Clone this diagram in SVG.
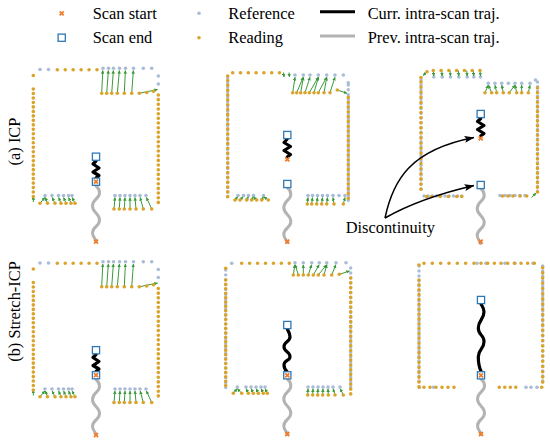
<svg xmlns="http://www.w3.org/2000/svg" xmlns:xlink="http://www.w3.org/1999/xlink" width="550" height="444" viewBox="0 0 550 444">
<style>
text{font-family:"Liberation Serif","Times New Roman",serif;font-size:16.4px;fill:#000}
.o{fill:#dba32a}
.b{fill:#a9bcd7}
.do{stroke:#dba32a;stroke-width:3.6;stroke-linecap:round;fill:none}
.db{stroke:#a9bcd7;stroke-width:3.4;stroke-linecap:round;fill:none}
.gl{stroke:#3a9a3a;stroke-width:1;fill:none;marker-end:url(#ga)}
.cur{stroke:#000;stroke-width:3.2;fill:none;stroke-linejoin:round;stroke-linecap:round}
.prv{stroke:#b3b3b3;stroke-width:3;fill:none;stroke-linecap:round}
.ar{stroke:#000;stroke-width:1.5;fill:none;marker-end:url(#ka)}
</style>
<defs>
<marker id="ga" viewBox="0 0 6 6" refX="5.5" refY="3" markerWidth="3.5" markerHeight="3.5" orient="auto"><path d="M0,0 L6,3 L0,6 z" fill="#3a9a3a"/></marker>
<marker id="ka" viewBox="0 0 10 8" refX="9.5" refY="4" markerWidth="10" markerHeight="8" markerUnits="userSpaceOnUse" orient="auto"><path d="M0,0.5 L10,4 L0,7.5 L2,4 z" fill="#000"/></marker>
<g id="sx"><path d="M-2,-2 L2,2 M-2,2 L2,-2" stroke="#ef7d2b" stroke-width="1.8"/></g>
<rect id="se" x="-3.6" y="-3.6" width="7.2" height="7.2" fill="#fff" stroke="#2e78b5" stroke-width="1.3"/>
<path id="prev" class="prv" d="M0,0 C2,1.5 3.5,4 3.5,7 C3.5,13 -3.5,13 -3.5,20 C-3.5,27 3.5,27 3.5,34 C3.5,41 -3.5,40 -3.5,47 C-3.5,51 0,53 0,55"/>
<g id="p1">
 <g class="b">
  <circle cx="40" cy="69.5" r="1.8"/><circle cx="48.5" cy="69.5" r="1.8"/>
  <circle cx="103" cy="68.3" r="1.8"/><circle cx="108.5" cy="68.3" r="1.8"/><circle cx="113.5" cy="68.3" r="1.8"/><circle cx="119.5" cy="68.3" r="1.8"/><circle cx="125.5" cy="68.3" r="1.8"/><circle cx="133.5" cy="68.3" r="1.8"/><circle cx="143.3" cy="68.3" r="1.8"/><circle cx="151.7" cy="68.3" r="1.8"/>
  <circle cx="158.3" cy="76" r="1.8"/><circle cx="158.3" cy="84" r="1.8"/>
  <circle cx="45" cy="195.5" r="1.8"/><circle cx="52" cy="195.5" r="1.8"/><circle cx="58.5" cy="195.5" r="1.8"/><circle cx="63.5" cy="195.5" r="1.8"/><circle cx="68.5" cy="195.5" r="1.8"/><circle cx="72" cy="195.5" r="1.8"/>
  <circle cx="115" cy="195.5" r="1.8"/><circle cx="120" cy="195.5" r="1.8"/><circle cx="125" cy="195.5" r="1.8"/><circle cx="130" cy="195.5" r="1.8"/><circle cx="135" cy="195.5" r="1.8"/><circle cx="140" cy="195.5" r="1.8"/><circle cx="146" cy="195.5" r="1.8"/>
 </g>
 <g>
  <line class="gl" x1="101.7" y1="93.3" x2="102.8" y2="70.5"/><line class="gl" x1="106.7" y1="93.3" x2="108.4" y2="70.5"/><line class="gl" x1="111.7" y1="93.3" x2="113.4" y2="70.5"/><line class="gl" x1="117.3" y1="93.3" x2="119.4" y2="70.5"/><line class="gl" x1="124.3" y1="93.3" x2="125.4" y2="70.5"/><line class="gl" x1="131.7" y1="93.3" x2="133.4" y2="70.5"/>
  <line class="gl" x1="139.3" y1="93.3" x2="157.5" y2="89.5"/>
  <line class="gl" x1="33.3" y1="202" x2="33.3" y2="196.5"/><line class="gl" x1="40" y1="203.3" x2="44.8" y2="197.5"/><line class="gl" x1="47.5" y1="203.3" x2="45.3" y2="197.5"/><line class="gl" x1="55" y1="203.3" x2="52.2" y2="197.5"/><line class="gl" x1="61" y1="203.3" x2="58.7" y2="197.5"/><line class="gl" x1="66" y1="203.3" x2="63.7" y2="197.5"/><line class="gl" x1="71" y1="203.3" x2="68.7" y2="197.5"/><line class="gl" x1="75" y1="203.3" x2="72.2" y2="197.5"/>
  <line class="gl" x1="114" y1="209" x2="115" y2="197.5"/><line class="gl" x1="119.3" y1="209" x2="120" y2="197.5"/><line class="gl" x1="124.3" y1="209" x2="125" y2="197.5"/><line class="gl" x1="130" y1="209" x2="130" y2="197.5"/><line class="gl" x1="136" y1="209" x2="135" y2="197.5"/><line class="gl" x1="143.3" y1="209" x2="140.2" y2="197.5"/><line class="gl" x1="151.7" y1="209" x2="146.4" y2="197.5"/>
 </g>
 <g>
  <circle class="o" cx="33.3" cy="75.5" r="1.8"/>
  <line class="do" x1="33.3" y1="89" x2="33.3" y2="201" stroke-dasharray="0 4.48"/>
  <line class="do" x1="57.3" y1="69.8" x2="97" y2="69.8" stroke-dasharray="0 7.94"/>
  <g class="o"><circle cx="101.7" cy="93.3" r="1.8"/><circle cx="106.7" cy="93.3" r="1.8"/><circle cx="111.7" cy="93.3" r="1.8"/><circle cx="117.3" cy="93.3" r="1.8"/><circle cx="124.3" cy="93.3" r="1.8"/><circle cx="131.7" cy="93.3" r="1.8"/><circle cx="139.3" cy="93.3" r="1.8"/><circle cx="146.7" cy="92.5" r="1.8"/><circle cx="153.5" cy="91.2" r="1.8"/></g>
  <line class="do" x1="158.3" y1="95" x2="158.3" y2="207" stroke-dasharray="0 4.67"/>
  <g class="o"><circle cx="40" cy="203.3" r="1.8"/><circle cx="47.5" cy="203.3" r="1.8"/><circle cx="55" cy="203.3" r="1.8"/><circle cx="61" cy="203.3" r="1.8"/><circle cx="66" cy="203.3" r="1.8"/><circle cx="71" cy="203.3" r="1.8"/><circle cx="75" cy="203.3" r="1.8"/>
  <circle cx="114" cy="209" r="1.8"/><circle cx="119.3" cy="209" r="1.8"/><circle cx="124.3" cy="209" r="1.8"/><circle cx="130" cy="209" r="1.8"/><circle cx="136" cy="209" r="1.8"/><circle cx="143.3" cy="209" r="1.8"/><circle cx="151.7" cy="209" r="1.8"/></g>
 </g>
 <use xlink:href="#prev" href="#prev" transform="translate(96,186)"/>
 <polyline class="cur" points="96,178 99,175.5 93,172 99,168 93,164 96,161"/>
 <use xlink:href="#se" href="#se" x="96" y="156.7"/>
 <use xlink:href="#se" href="#se" x="96" y="181.7"/>
 <use xlink:href="#sx" href="#sx" x="96" y="181.7"/>
 <use xlink:href="#sx" href="#sx" x="96" y="241.7"/>
</g>
</defs>
<rect width="550" height="444" fill="#fff"/>

<g id="legend">
 <use xlink:href="#sx" href="#sx" x="61.7" y="13.3"/>
 <use xlink:href="#se" href="#se" x="61.7" y="37.7"/>
 <circle class="b" cx="199" cy="13.3" r="1.8"/>
 <circle class="o" cx="199" cy="37.7" r="1.8"/>
 <line x1="320" y1="11.7" x2="355" y2="11.7" stroke="#000" stroke-width="3"/>
 <line x1="320" y1="36" x2="355" y2="36" stroke="#b3b3b3" stroke-width="3"/>
 <text x="92.7" y="18.5">Scan start</text>
 <text x="92.7" y="42.7">Scan end</text>
 <text x="228.3" y="18.5">Reference</text>
 <text x="228.3" y="42.7">Reading</text>
 <text x="367.7" y="18.5">Curr. intra-scan traj.</text>
 <text x="367.7" y="42.7">Prev. intra-scan traj.</text>
</g>

<g id="row-labels">
 <text transform="translate(20,141.5) rotate(-90)" text-anchor="middle">(a) ICP</text>
 <text transform="translate(20,311.5) rotate(-90)" text-anchor="middle">(b) Stretch-ICP</text>
</g>

<g id="panel-a1"><use xlink:href="#p1" href="#p1"/></g>

<g id="panel-a2">
 <line class="db" x1="227.7" y1="78" x2="227.7" y2="197" stroke-dasharray="0 4.76"/>
 <g class="b">
  <circle cx="295" cy="75" r="1.8"/><circle cx="303.3" cy="75" r="1.8"/><circle cx="310" cy="75" r="1.8"/><circle cx="318.3" cy="75" r="1.8"/><circle cx="326.7" cy="75" r="1.8"/><circle cx="335" cy="75" r="1.8"/><circle cx="343.3" cy="75" r="1.8"/><circle cx="348.3" cy="82.7" r="1.8"/>
  <circle cx="238" cy="195.5" r="1.8"/><circle cx="243.5" cy="195.5" r="1.8"/><circle cx="248.5" cy="195.5" r="1.8"/><circle cx="253.5" cy="195.5" r="1.8"/><circle cx="263.5" cy="195.5" r="1.8"/>
  <circle cx="308" cy="195.5" r="1.8"/><circle cx="312.5" cy="195.5" r="1.8"/><circle cx="317.5" cy="195.5" r="1.8"/><circle cx="322.5" cy="195.5" r="1.8"/><circle cx="327.5" cy="195.5" r="1.8"/><circle cx="333" cy="195.5" r="1.8"/><circle cx="339" cy="195.5" r="1.8"/><circle cx="345" cy="195.5" r="1.8"/>
 </g>
 <line class="db" x1="348.3" y1="85" x2="348.3" y2="201" stroke-dasharray="0 4.8"/>
 <g>
  <line class="gl" x1="292.7" y1="92.7" x2="295" y2="77.2"/><line class="gl" x1="296.7" y1="92.7" x2="303.2" y2="77.2"/><line class="gl" x1="300.7" y1="92.7" x2="303.4" y2="77.2"/><line class="gl" x1="305" y1="92.7" x2="310" y2="77.2"/><line class="gl" x1="309.3" y1="92.7" x2="318.2" y2="77.2"/><line class="gl" x1="314" y1="92.7" x2="318.4" y2="77.2"/><line class="gl" x1="318.3" y1="92.7" x2="326.6" y2="77.2"/><line class="gl" x1="324" y1="92.7" x2="326.8" y2="77.2"/><line class="gl" x1="330" y1="92.7" x2="335" y2="77.2"/>
  <line class="gl" x1="337.3" y1="90" x2="347" y2="93.3"/>
  <line class="gl" x1="283.5" y1="72.5" x2="284" y2="77"/><line class="gl" x1="289" y1="72.5" x2="289.5" y2="77"/>
  <line class="gl" x1="235" y1="200" x2="237.7" y2="196.8"/><line class="gl" x1="240" y1="200" x2="243.2" y2="196.8"/><line class="gl" x1="246.7" y1="200" x2="248.3" y2="196.8"/><line class="gl" x1="251.7" y1="200" x2="253.3" y2="196.8"/><line class="gl" x1="256.7" y1="200" x2="253.7" y2="196.8"/><line class="gl" x1="261.7" y1="200" x2="263.3" y2="196.8"/><line class="gl" x1="268.3" y1="200" x2="263.8" y2="196.8"/>
  <line class="gl" x1="307.3" y1="204" x2="308" y2="197.5"/><line class="gl" x1="311.7" y1="204" x2="312.5" y2="197.5"/><line class="gl" x1="316.7" y1="204" x2="317.5" y2="197.5"/><line class="gl" x1="321.7" y1="204" x2="322.5" y2="197.5"/><line class="gl" x1="326.7" y1="204" x2="327.5" y2="197.5"/><line class="gl" x1="334" y1="204" x2="333" y2="197.5"/><line class="gl" x1="343.3" y1="204" x2="345" y2="197.5"/>
 </g>
 <circle class="o" cx="227.7" cy="76" r="1.8"/>
 <line class="do" x1="227.7" y1="80.5" x2="227.7" y2="196.7" stroke-dasharray="0 4.84"/>
 <line class="do" x1="232.7" y1="72.7" x2="287.3" y2="72.7" stroke-dasharray="0 7.8"/>
 <g class="o"><circle cx="292.7" cy="92.7" r="1.8"/><circle cx="296.7" cy="92.7" r="1.8"/><circle cx="300.7" cy="92.7" r="1.8"/><circle cx="305" cy="92.7" r="1.8"/><circle cx="309.3" cy="92.7" r="1.8"/><circle cx="314" cy="92.7" r="1.8"/><circle cx="318.3" cy="92.7" r="1.8"/><circle cx="324" cy="92.7" r="1.8"/><circle cx="330" cy="92.7" r="1.8"/><circle cx="337.3" cy="90" r="1.8"/></g>
 <line class="do" x1="348.3" y1="97.4" x2="348.3" y2="203" stroke-dasharray="0 4.8"/>
 <g class="o"><circle cx="235" cy="200" r="1.8"/><circle cx="240" cy="200" r="1.8"/><circle cx="246.7" cy="200" r="1.8"/><circle cx="251.7" cy="200" r="1.8"/><circle cx="256.7" cy="200" r="1.8"/><circle cx="261.7" cy="200" r="1.8"/><circle cx="268.3" cy="200" r="1.8"/>
 <circle cx="307.3" cy="204" r="1.8"/><circle cx="311.7" cy="204" r="1.8"/><circle cx="316.7" cy="204" r="1.8"/><circle cx="321.7" cy="204" r="1.8"/><circle cx="326.7" cy="204" r="1.8"/><circle cx="334" cy="204" r="1.8"/><circle cx="343.3" cy="204" r="1.8"/></g>
 <use xlink:href="#prev" href="#prev" transform="translate(287.3,187.5)"/>
 <polyline class="cur" points="287.3,157 290.5,154.5 284,150.5 290.5,146.5 284,142.5 287.3,139"/>
 <use xlink:href="#se" href="#se" x="287.3" y="135"/>
 <use xlink:href="#se" href="#se" x="287.3" y="184"/>
 <use xlink:href="#sx" href="#sx" x="287.3" y="159.3"/>
 <use xlink:href="#sx" href="#sx" x="287.3" y="241.7"/>
</g>

<g id="panel-a3">
 <line class="db" x1="421" y1="80" x2="421" y2="194" stroke-dasharray="0 4.75"/>
 <line class="db" x1="537.5" y1="82" x2="537.5" y2="196" stroke-dasharray="0 4.75"/>
 <line class="db" x1="424" y1="196" x2="462" y2="196" stroke-dasharray="0 4.2"/>
 <g class="b">
  <circle cx="433.8" cy="77" r="1.8"/><circle cx="442.2" cy="77" r="1.8"/><circle cx="450.5" cy="77" r="1.8"/><circle cx="458.8" cy="77" r="1.8"/><circle cx="467.2" cy="77" r="1.8"/><circle cx="473.8" cy="77" r="1.8"/><circle cx="480.5" cy="77" r="1.8"/>
  <circle cx="488.3" cy="83.3" r="1.8"/><circle cx="495" cy="83.3" r="1.8"/><circle cx="501.7" cy="83.3" r="1.8"/><circle cx="508.3" cy="83.3" r="1.8"/><circle cx="515" cy="83.3" r="1.8"/><circle cx="521.7" cy="83.3" r="1.8"/><circle cx="530" cy="83.3" r="1.8"/><circle cx="535.5" cy="80" r="1.8"/>
  <circle cx="500" cy="195.5" r="1.8"/><circle cx="505" cy="195.5" r="1.8"/><circle cx="510" cy="195.5" r="1.8"/><circle cx="515" cy="195.5" r="1.8"/><circle cx="520" cy="195.5" r="1.8"/><circle cx="525" cy="195.5" r="1.8"/>
 </g>
 <g>
  <line class="gl" x1="433.3" y1="70.5" x2="433.8" y2="76"/><line class="gl" x1="441.7" y1="70.5" x2="442.2" y2="76"/><line class="gl" x1="450" y1="70.5" x2="450.5" y2="76"/><line class="gl" x1="458.3" y1="70.5" x2="458.8" y2="76"/><line class="gl" x1="466.7" y1="70.5" x2="467.2" y2="76"/><line class="gl" x1="473.3" y1="70.5" x2="473.8" y2="76"/><line class="gl" x1="480" y1="70.5" x2="480.5" y2="76"/>
  <line class="gl" x1="427" y1="72" x2="423" y2="75.5"/>
  <line class="gl" x1="485" y1="92.7" x2="488.2" y2="85.2"/><line class="gl" x1="491.7" y1="92.7" x2="488.5" y2="85.2"/><line class="gl" x1="496.7" y1="92.7" x2="495" y2="85.2"/><line class="gl" x1="503.3" y1="92.7" x2="501.7" y2="85.2"/><line class="gl" x1="509.3" y1="92.7" x2="514.8" y2="85.2"/><line class="gl" x1="516.7" y1="92.7" x2="515.2" y2="85.2"/><line class="gl" x1="521.7" y1="92.7" x2="521.7" y2="85.2"/><line class="gl" x1="528.3" y1="92.7" x2="530" y2="85.2"/>
  <line class="gl" x1="531.7" y1="197.5" x2="536" y2="193"/>
 </g>
 <circle class="o" cx="421" cy="77.5" r="1.8"/><circle class="o" cx="427" cy="71.7" r="1.8"/>
 <line class="do" x1="421" y1="82" x2="421" y2="194.2" stroke-dasharray="0 5.1"/>
 <line class="do" x1="433.3" y1="70.5" x2="480" y2="70.5" stroke-dasharray="0 7.78"/>
 <g class="o"><circle cx="485" cy="92.7" r="1.8"/><circle cx="491.7" cy="92.7" r="1.8"/><circle cx="496.7" cy="92.7" r="1.8"/><circle cx="503.3" cy="92.7" r="1.8"/><circle cx="509.3" cy="92.7" r="1.8"/><circle cx="516.7" cy="92.7" r="1.8"/><circle cx="521.7" cy="92.7" r="1.8"/><circle cx="528.3" cy="92.7" r="1.8"/></g>
 <line class="do" x1="537.5" y1="88" x2="537.5" y2="196.7" stroke-dasharray="0 4.73"/>
 <g class="o"><circle cx="426.7" cy="196.5" r="1.8"/><circle cx="431.7" cy="196.5" r="1.8"/><circle cx="440" cy="196.5" r="1.8"/><circle cx="448.3" cy="196.5" r="1.8"/><circle cx="456.7" cy="196.5" r="1.8"/><circle cx="461.7" cy="196.5" r="1.8"/>
 <circle cx="502.5" cy="196" r="1.8"/><circle cx="508" cy="196" r="1.8"/><circle cx="513" cy="196" r="1.8"/><circle cx="520" cy="196" r="1.8"/><circle cx="526.7" cy="196" r="1.8"/></g>
 <use xlink:href="#prev" href="#prev" transform="translate(480.7,188.5)"/>
 <polyline class="cur" points="480.7,136 484,133.5 477.5,129.5 484,125.5 477.5,121.5 480.7,118.5"/>
 <use xlink:href="#se" href="#se" x="480.7" y="114"/>
 <use xlink:href="#se" href="#se" x="480.7" y="185"/>
 <use xlink:href="#sx" href="#sx" x="480.7" y="138.3"/>
 <use xlink:href="#sx" href="#sx" x="480.7" y="241.7"/>
</g>

<g id="discontinuity">
 <path class="ar" d="M385,218 C393,180 410,150 474,137.5"/>
 <path class="ar" d="M385,218 Q420,198 474,185.5"/>
 <text x="345.7" y="233">Discontinuity</text>
</g>

<g id="panel-b1"><use xlink:href="#p1" href="#p1" transform="translate(0,193.5)"/></g>

<g id="panel-b2">
 <line class="db" x1="225.7" y1="270" x2="225.7" y2="388" stroke-dasharray="0 4.9"/>
 <line class="db" x1="350.7" y1="268" x2="350.7" y2="392" stroke-dasharray="0 4.96"/>
 <g class="b">
  <circle cx="231.7" cy="263.3" r="1.8"/>
  <circle cx="295" cy="262.7" r="1.8"/><circle cx="303.3" cy="262.7" r="1.8"/><circle cx="311.7" cy="262.7" r="1.8"/><circle cx="319.3" cy="262.7" r="1.8"/><circle cx="326.7" cy="262.7" r="1.8"/><circle cx="336" cy="262.7" r="1.8"/><circle cx="346" cy="262.7" r="1.8"/>
  <circle cx="237.3" cy="387" r="1.8"/><circle cx="246" cy="387" r="1.8"/><circle cx="251" cy="387" r="1.8"/><circle cx="256" cy="387" r="1.8"/><circle cx="261" cy="387" r="1.8"/><circle cx="265" cy="387" r="1.8"/>
  <circle cx="308" cy="387" r="1.8"/><circle cx="313" cy="387" r="1.8"/><circle cx="318" cy="387" r="1.8"/><circle cx="323" cy="387" r="1.8"/><circle cx="328" cy="387" r="1.8"/><circle cx="333" cy="387" r="1.8"/><circle cx="340" cy="387" r="1.8"/>
 </g>
 <g>
  <line class="gl" x1="293.3" y1="275" x2="294.8" y2="264.8"/><line class="gl" x1="298.3" y1="275" x2="295.3" y2="264.8"/><line class="gl" x1="303.3" y1="275" x2="303.3" y2="264.8"/><line class="gl" x1="308.3" y1="275" x2="311.5" y2="264.8"/><line class="gl" x1="313.3" y1="275" x2="319.1" y2="264.8"/><line class="gl" x1="318.3" y1="275" x2="326.5" y2="264.8"/><line class="gl" x1="324" y1="275" x2="326.9" y2="264.8"/><line class="gl" x1="331.7" y1="275" x2="335.8" y2="264.8"/>
  <line class="gl" x1="339.3" y1="274.3" x2="349.5" y2="271"/>
  <line class="gl" x1="233.3" y1="393.3" x2="237.1" y2="388.8"/><line class="gl" x1="241.7" y1="393.3" x2="237.5" y2="388.8"/><line class="gl" x1="248.3" y1="393.3" x2="246.2" y2="388.8"/><line class="gl" x1="253.3" y1="393.3" x2="251.2" y2="388.8"/><line class="gl" x1="258.3" y1="393.3" x2="256.2" y2="388.8"/><line class="gl" x1="263.3" y1="393.3" x2="261.2" y2="388.8"/><line class="gl" x1="267.3" y1="393.3" x2="265.2" y2="388.8"/>
  <line class="gl" x1="307.7" y1="395" x2="308" y2="388.8"/><line class="gl" x1="312.7" y1="395" x2="313" y2="388.8"/><line class="gl" x1="317.7" y1="395" x2="318" y2="388.8"/><line class="gl" x1="322.7" y1="395" x2="323" y2="388.8"/><line class="gl" x1="328.3" y1="395" x2="328" y2="388.8"/><line class="gl" x1="335" y1="395" x2="333.2" y2="388.8"/><line class="gl" x1="343.3" y1="395" x2="340.3" y2="388.8"/>
 </g>
 <circle class="o" cx="225.7" cy="268.3" r="1.8"/>
 <line class="do" x1="225.7" y1="280" x2="225.7" y2="390" stroke-dasharray="0 4.4"/>
 <line class="do" x1="241.7" y1="263.3" x2="289.3" y2="263.3" stroke-dasharray="0 7.93"/>
 <g class="o"><circle cx="293.3" cy="275" r="1.8"/><circle cx="298.3" cy="275" r="1.8"/><circle cx="303.3" cy="275" r="1.8"/><circle cx="308.3" cy="275" r="1.8"/><circle cx="313.3" cy="275" r="1.8"/><circle cx="318.3" cy="275" r="1.8"/><circle cx="324" cy="275" r="1.8"/><circle cx="331.7" cy="275" r="1.8"/><circle cx="339.3" cy="274.3" r="1.8"/></g>
 <line class="do" x1="350.7" y1="278" x2="350.7" y2="394" stroke-dasharray="0 4.83"/>
 <g class="o"><circle cx="233.3" cy="393.3" r="1.8"/><circle cx="241.7" cy="393.3" r="1.8"/><circle cx="248.3" cy="393.3" r="1.8"/><circle cx="253.3" cy="393.3" r="1.8"/><circle cx="258.3" cy="393.3" r="1.8"/><circle cx="263.3" cy="393.3" r="1.8"/><circle cx="267.3" cy="393.3" r="1.8"/>
 <circle cx="307.7" cy="395" r="1.8"/><circle cx="312.7" cy="395" r="1.8"/><circle cx="317.7" cy="395" r="1.8"/><circle cx="322.7" cy="395" r="1.8"/><circle cx="328.3" cy="395" r="1.8"/><circle cx="335" cy="395" r="1.8"/><circle cx="343.3" cy="395" r="1.8"/></g>
 <use xlink:href="#prev" href="#prev" transform="translate(287.3,379)"/>
 <path class="cur" d="M287.3,372 C285,370 284,367 284,365 C284,360 290,361 290,356.7 C290,351.5 284,352 284,346.7 C284,341.5 290,342 290,336.7 C290,333 288,331 287.3,329"/>
 <use xlink:href="#se" href="#se" x="287.3" y="325"/>
 <use xlink:href="#se" href="#se" x="287.3" y="375.3"/>
 <use xlink:href="#sx" href="#sx" x="287.3" y="375.3"/>
 <use xlink:href="#sx" href="#sx" x="287.3" y="434"/>
</g>

<g id="panel-b3">
 <line class="db" x1="419" y1="266" x2="419" y2="386" stroke-dasharray="0 5"/>
 <line class="db" x1="542.7" y1="266" x2="542.7" y2="386" stroke-dasharray="0 5"/>
 <g class="b">
  <circle cx="477" cy="263.3" r="1.8"/><circle cx="486" cy="263.3" r="1.8"/><circle cx="505" cy="263.3" r="1.8"/><circle cx="515" cy="263.3" r="1.8"/><circle cx="533" cy="263.3" r="1.8"/>
  <circle cx="419.5" cy="387.3" r="1.8"/><circle cx="433.5" cy="387.3" r="1.8"/>
  <circle cx="526" cy="387.3" r="1.8"/><circle cx="531" cy="387.3" r="1.8"/><circle cx="537" cy="387.3" r="1.8"/>
 </g>
 <line class="do" x1="424" y1="263.3" x2="474" y2="263.3" stroke-dasharray="0 8.33"/>
 <line class="do" x1="481" y1="263.3" x2="541" y2="263.3" stroke-dasharray="0 6.67"/>
 <circle class="o" cx="419" cy="265" r="1.8"/>
 <line class="do" x1="419" y1="280" x2="419" y2="387" stroke-dasharray="0 4.86"/>
 <line class="do" x1="542.7" y1="267.7" x2="542.7" y2="387.3" stroke-dasharray="0 5.2"/>
 <line class="do" x1="424" y1="387.3" x2="460" y2="387.3" stroke-dasharray="0 6"/>
 <line class="do" x1="499.3" y1="387.3" x2="521.3" y2="387.3" stroke-dasharray="0 5.5"/>
 <circle class="o" cx="541.7" cy="387.3" r="1.8"/>
 <use xlink:href="#prev" href="#prev" transform="translate(481,379)"/>
 <path class="cur" d="M481,371 C479,367 478.3,361 478.3,356.7 C478.3,349 484,349.5 484,341.7 C484,334 478.3,336 478.3,328 C478.3,320 484,320 484,311.7 C484,308 482,306 481,304"/>
 <use xlink:href="#se" href="#se" x="481" y="300"/>
 <use xlink:href="#se" href="#se" x="481" y="375.3"/>
 <use xlink:href="#sx" href="#sx" x="481" y="375.3"/>
 <use xlink:href="#sx" href="#sx" x="481" y="434"/>
</g>
</svg>
